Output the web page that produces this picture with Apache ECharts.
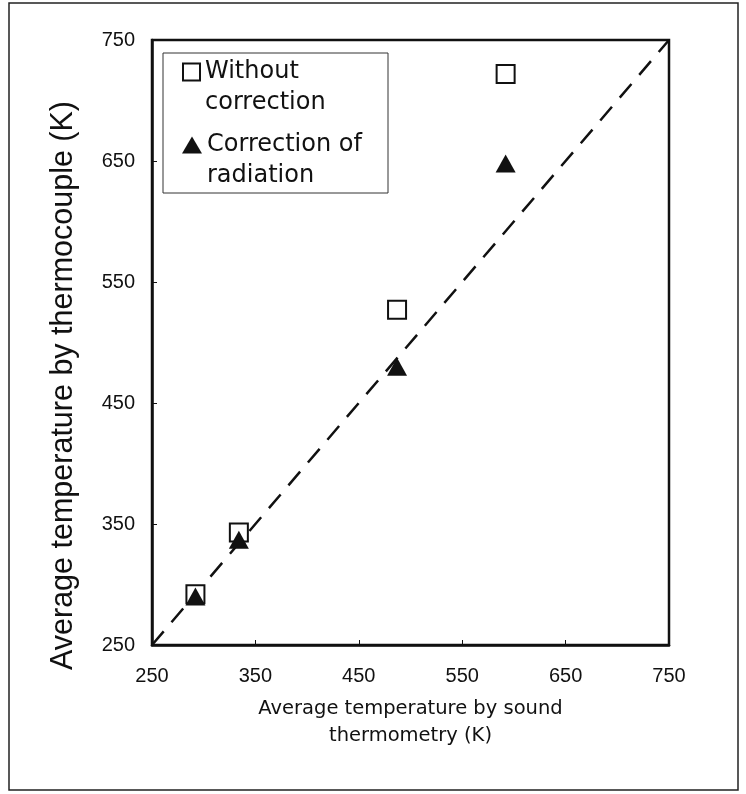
<!DOCTYPE html>
<html>
<head>
<meta charset="utf-8">
<script src="https://cdn.jsdelivr.net/npm/echarts@6/dist/echarts.min.js"></script>
<style>
html,body{margin:0;padding:0;background:#fff;}
#chart{width:746px;height:794px;}
</style>
</head>
<body>
<div id="chart"></div>
<script>
// ---- data ----
const soundTemp = [292, 334, 487, 592];          // x: sound thermometry (K)
const withoutCorrection = [292, 343, 527, 722];  // y: without correction (K)
const radiationCorrection = [290, 337, 480, 648];// y: correction of radiation (K)
const refLine = [250, 750];                      // y = x reference line
const axisTicks = [250, 350, 450, 550, 650, 750];

const nameWithout = 'Without\ncorrection';
const nameRadiation = 'Correction of\nradiation';

const chart = echarts.init(document.getElementById('chart'), null, {renderer: 'canvas'});
const L = 31;
const legendText = {
  fontFamily: '"DejaVu Sans", sans-serif',
  fontSize: 24, color: '#111', lineHeight: L
};
const option = {
  backgroundColor: '#fff',
  animation: false,
  grid: {left: 152, right: 77, top: 40, bottom: 149, show: true, borderColor: '#111', borderWidth: 2.5},
  xAxis: {
    type: 'value', min: axisTicks[0], max: axisTicks[axisTicks.length - 1], interval: 100,
    name: 'Average temperature by sound\nthermometry (K)',
    nameLocation: 'middle', nameGap: 50,
    nameTextStyle: {fontFamily: '"DejaVu Sans", sans-serif', fontSize: 19.5, color: '#111', lineHeight: 27},
    axisLine: {lineStyle: {color: '#111', width: 2.5}},
    axisTick: {inside: true, length: 5, lineStyle: {color: '#111', width: 1}},
    axisLabel: {margin: 21, fontFamily: '"Liberation Sans", Arial, sans-serif', fontSize: 20, color: '#111'},
    splitLine: {show: false}
  },
  yAxis: {
    type: 'value', min: axisTicks[0], max: axisTicks[axisTicks.length - 1], interval: 100,
    name: 'Average temperature by thermocouple (K)',
    nameLocation: 'middle', nameGap: 73,
    nameTextStyle: {fontFamily: '"Liberation Sans", Arial, sans-serif', fontSize: 30.5, color: '#111', padding: [0, 86, 0, 0]},
    axisLine: {lineStyle: {color: '#111', width: 2.5}},
    axisTick: {inside: true, length: 5, lineStyle: {color: '#111', width: 1}},
    axisLabel: {margin: 17, fontFamily: '"Liberation Sans", Arial, sans-serif', fontSize: 20, color: '#111'},
    splitLine: {show: false}
  },
  legend: [
    {data: [nameWithout], orient: 'vertical', left: 182, top: 72 - 1.5 * L, padding: 0,
     formatter: n => ' \n' + n, itemWidth: 17, itemHeight: 17, textStyle: legendText},
    {data: [nameRadiation], orient: 'vertical', left: 182, top: 145 - 1.5 * L, padding: 0,
     formatter: n => ' \n' + n, itemWidth: 20, itemHeight: 17, textStyle: legendText}
  ],
  graphic: [
    {type: 'rect', shape: {x: 9, y: 3, width: 729, height: 787}, style: {fill: 'none', stroke: '#222', lineWidth: 1.5}, silent: true},
    {type: 'rect', shape: {x: 163, y: 53, width: 225, height: 140}, style: {fill: 'none', stroke: '#333', lineWidth: 1}, silent: true, z: 1}
  ],
  series: [
    {
      type: 'line', data: refLine.map(v => [v, v]), symbol: 'none', silent: true,
      lineStyle: {color: '#111', width: 2.5, type: [18, 12]}, z: 1
    },
    {
      name: nameWithout, type: 'scatter', symbol: 'rect', symbolSize: 18,
      data: soundTemp.map((x, i) => [x, withoutCorrection[i]]),
      itemStyle: {color: '#fff', borderColor: '#111', borderWidth: 2, opacity: 1}, z: 3
    },
    {
      name: nameRadiation, type: 'scatter', symbol: 'triangle', symbolSize: [20, 18],
      data: soundTemp.map((x, i) => [x, radiationCorrection[i]]),
      itemStyle: {color: '#111', opacity: 1}, z: 4
    }
  ]
};
chart.setOption(option);
</script>
</body>
</html>
